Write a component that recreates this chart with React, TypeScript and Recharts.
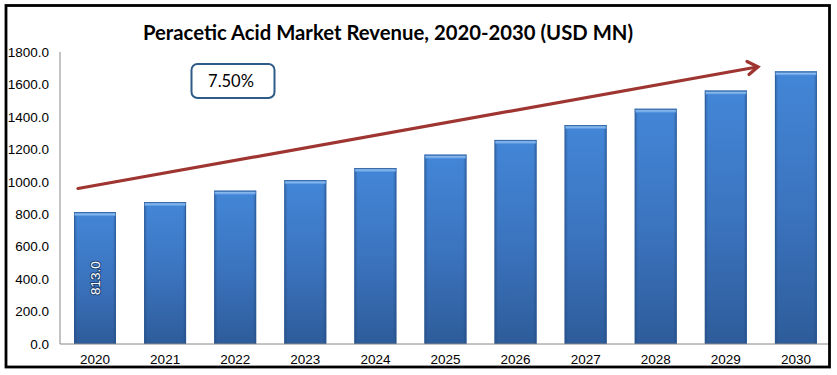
import React from 'react';
import { BarChart, Bar, XAxis, YAxis, LabelList } from 'recharts';

const years = ['2020', '2021', '2022', '2023', '2024', '2025', '2026', '2027', '2028', '2029', '2030'];
const revenue = [813, 875, 945, 1010, 1085, 1167, 1258, 1350, 1450, 1562, 1680];
const yTicks = [0, 200, 400, 600, 800, 1000, 1200, 1400, 1600, 1800];
const title = 'Peracetic Acid Market Revenue, 2020-2030 (USD MN)';
const cagrLabel = '7.50%';

const data = years.map((y, i) => ({ year: y, value: revenue[i] }));

const BarShape = (props: any) => {
  const { x, y, width, height } = props;
  if (!height || height <= 0) return null;
  return (
    <g>
      <rect x={x} y={y} width={width} height={height} fill="url(#barGrad)" />
      <rect x={x} y={y} width={width} height={height} fill="url(#barEdge)" />
      <rect x={x} y={y} width={width} height={4} fill="url(#capGrad)" />
      <rect x={x + 0.5} y={y + 0.5} width={width - 1} height={height - 1} fill="none" stroke="#2b5a94" strokeWidth={0.8} strokeOpacity={0.7} />
    </g>
  );
};

const renderLabel = (props: any) => {
  const { x, y, width, height, value, index } = props;
  if (index !== 0) return null;
  const cx = Number(x) + Number(width) / 2;
  const cy = Number(y) + Number(height) / 2;
  return (
    <g transform={`translate(${cx} ${cy}) rotate(-90)`}>
      <text
        x={0}
        y={0}
        textAnchor="middle"
        dy="0.36em"
        fill="#ffffff"
        stroke="#1f4273"
        strokeWidth={2}
        paintOrder="stroke"
        fontFamily="'Liberation Sans', Arial, sans-serif"
        fontSize={13.5}
      >
        {Number(value).toFixed(1)}
      </text>
    </g>
  );
};

export default function App() {
  return (
    <div style={{ position: 'absolute', left: 0, top: 0, width: 837, height: 375, background: '#fff' }}>
      <BarChart
        width={837}
        height={375}
        data={data}
        margin={{ top: 52, right: 6, bottom: 1, left: 0 }}
        barSize={42}
      >
        <defs>
          <linearGradient id="barGrad" x1="0" y1="0" x2="0" y2="1">
            <stop offset="0%" stopColor="#4386d7" />
            <stop offset="50%" stopColor="#3b74bf" />
            <stop offset="100%" stopColor="#2e5c9a" />
          </linearGradient>
          <linearGradient id="barEdge" x1="0" y1="0" x2="1" y2="0">
            <stop offset="0%" stopColor="#1d3f70" stopOpacity={0.45} />
            <stop offset="8%" stopColor="#1d3f70" stopOpacity={0} />
            <stop offset="92%" stopColor="#1d3f70" stopOpacity={0} />
            <stop offset="100%" stopColor="#1d3f70" stopOpacity={0.45} />
          </linearGradient>
          <linearGradient id="capGrad" x1="0" y1="0" x2="0" y2="1">
            <stop offset="0%" stopColor="#3a74c0" />
            <stop offset="50%" stopColor="#8dbdf0" />
            <stop offset="100%" stopColor="#4f90dc" />
          </linearGradient>
        </defs>
        <XAxis
          dataKey="year"
          height={30}
          axisLine={{ stroke: '#888888', strokeWidth: 1 }}
          tickLine={false}
          tickSize={0}
          tickMargin={10}
          tick={{ fill: '#000', fontSize: 13.5, fontFamily: "'Liberation Sans', Arial, sans-serif" }}
          interval={0}
        />
        <YAxis
          width={60}
          domain={[0, 1800]}
          ticks={yTicks}
          tickFormatter={(v: number) => v.toFixed(1)}
          axisLine={{ stroke: '#888888', strokeWidth: 1 }}
          tickLine={false}
          tickSize={0}
          tickMargin={11}
          tick={{ fill: '#000', fontSize: 13.5, fontFamily: "'Liberation Sans', Arial, sans-serif" }}
          interval={0}
        />
        <Bar dataKey="value" shape={BarShape} isAnimationActive={false}>
          <LabelList dataKey="value" content={renderLabel} />
        </Bar>
      </BarChart>
      <svg
        width={837}
        height={375}
        style={{ position: 'absolute', left: 0, top: 0, pointerEvents: 'none' }}
      >
        <rect x={6} y={5.5} width={823.5} height={361.5} fill="none" stroke="#000" strokeWidth={2.8} />
        <text
          x={388}
          y={32}
          textAnchor="middle"
          dominantBaseline="central"
          fontFamily="Lato, 'Open Sans', sans-serif"
          fontWeight={700}
          fontSize={20.3}
          fill="#000"
        >
          {title}
        </text>
        <rect x={191.5} y={64} width={83} height={34} rx={6} ry={6} fill="#fff" stroke="#2f5b88" strokeWidth={2} />
        <text
          x={231}
          y={81}
          textAnchor="middle"
          dominantBaseline="central"
          fontFamily="Lato, 'Open Sans', sans-serif"
          fontSize={16.5}
          fill="#000"
        >
          {cagrLabel}
        </text>
        <line x1={78} y1={188.5} x2={757} y2={67} stroke="#9e3530" strokeWidth={3.2} strokeLinecap="round" />
        <polyline points="747,61.5 758,66.8 749,74.5" fill="none" stroke="#9e3530" strokeWidth={3.2} strokeLinecap="round" strokeLinejoin="miter" />
      </svg>
    </div>
  );
}
